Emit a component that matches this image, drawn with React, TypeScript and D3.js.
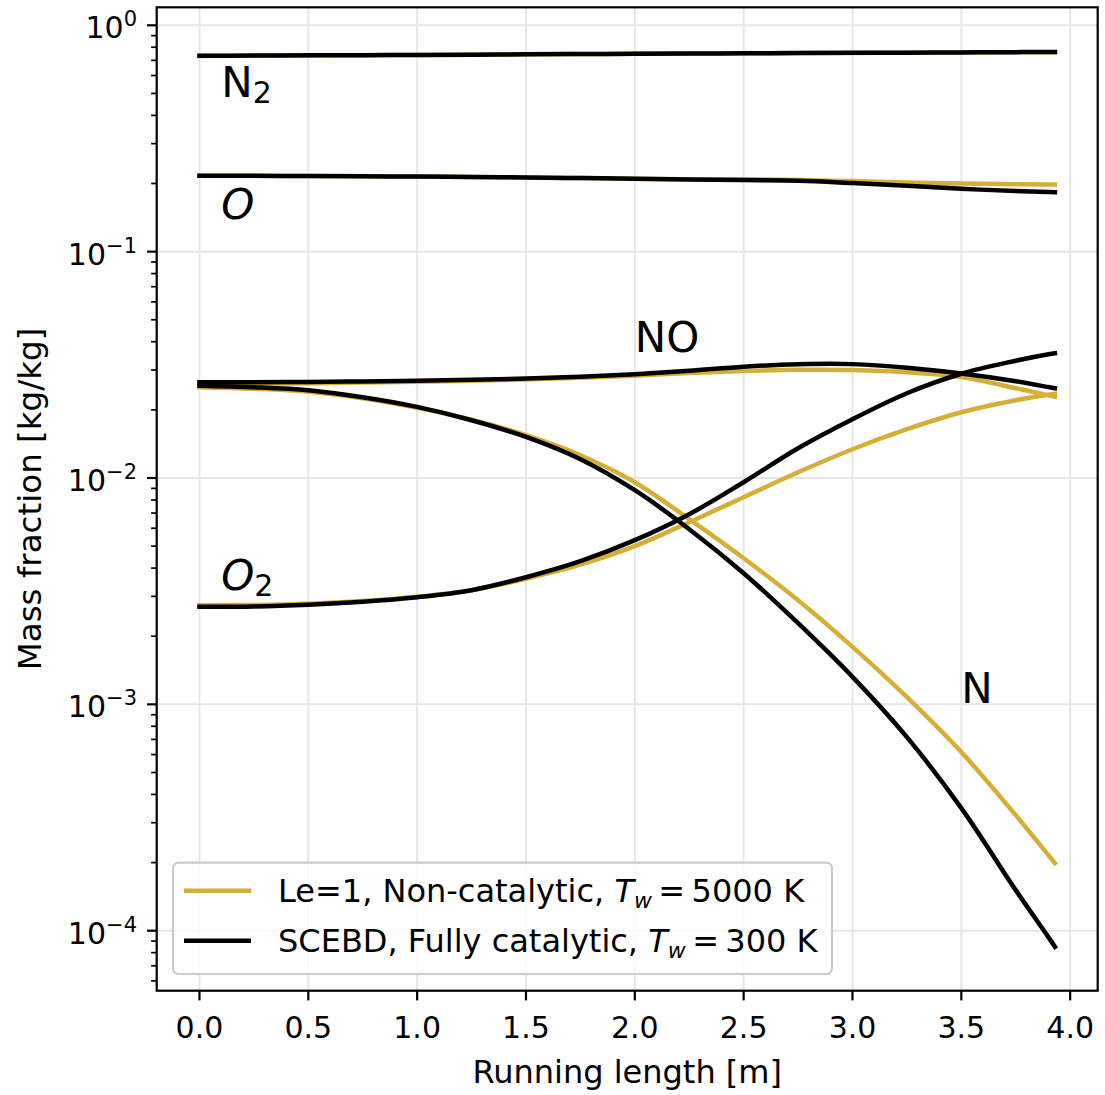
import React from 'react';
import * as d3 from 'd3';

// Running length [m]
const runningLength = [0, 0.25, 0.5, 0.75, 1.0, 1.25, 1.5, 1.75, 2.0, 2.25, 2.5, 2.75, 3.0, 3.25, 3.5, 3.75, 3.9, 3.93];

// Le=1, Non-catalytic, Tw = 5000 K  (gold)
const n2Gold = [0.732, 0.734, 0.736, 0.738, 0.740, 0.742, 0.744, 0.746, 0.748, 0.750, 0.752, 0.754, 0.755, 0.757, 0.758, 0.760, 0.761, 0.761];
const oGold = [0.2164, 0.2162, 0.2158, 0.2153, 0.2147, 0.2138, 0.2127, 0.2114, 0.2099, 0.2088, 0.2084, 0.2075, 0.2050, 0.2021, 0.1999, 0.1985, 0.1980, 0.1979];
const noGold = [0.02609, 0.02612, 0.02623, 0.02639, 0.02663, 0.02690, 0.02726, 0.02774, 0.02830, 0.02909, 0.02969, 0.03005, 0.02999, 0.02933, 0.02796, 0.02493, 0.02317, 0.02286];
const nGold = [0.02518, 0.02480, 0.02405, 0.02252, 0.02044, 0.01809, 0.01546, 0.01261, 0.009582, 0.006577, 0.004421, 0.002885, 0.001795, 0.001076, 0.0006151, 0.0003240, 0.0002158, 0.0001989];
const o2Gold = [0.002743, 0.002751, 0.002785, 0.002863, 0.002990, 0.003195, 0.003590, 0.004141, 0.004997, 0.006378, 0.008226, 0.010608, 0.013401, 0.016428, 0.019528, 0.022067, 0.023333, 0.023572];

// SCEBD, Fully catalytic, Tw = 300 K  (black)
const n2Black = [0.733, 0.735, 0.737, 0.738, 0.740, 0.742, 0.744, 0.746, 0.748, 0.750, 0.752, 0.754, 0.756, 0.757, 0.759, 0.761, 0.762, 0.762];
const oBlack = [0.2164, 0.2162, 0.2158, 0.2153, 0.2147, 0.2138, 0.2127, 0.2114, 0.2099, 0.2084, 0.2071, 0.2057, 0.2009, 0.1955, 0.1896, 0.1852, 0.1834, 0.1830];
const noBlack = [0.02649, 0.02649, 0.02657, 0.02671, 0.02690, 0.02715, 0.02751, 0.02802, 0.02874, 0.02978, 0.03102, 0.03180, 0.03185, 0.03071, 0.02894, 0.02676, 0.02522, 0.02493];
const nBlack = [0.02557, 0.02518, 0.02443, 0.02275, 0.02061, 0.01800, 0.01519, 0.012106, 0.008834, 0.005942, 0.003797, 0.002284, 0.001323, 0.0007164, 0.0003479, 0.0001511, 0.00009370, 0.00008492];
const o2Black = [0.002701, 0.002709, 0.002757, 0.002842, 0.002975, 0.003195, 0.003645, 0.004291, 0.005313, 0.006920, 0.009582, 0.013538, 0.018184, 0.023690, 0.028888, 0.032969, 0.035228, 0.035589];

const goldSeries = [n2Gold, oGold, noGold, nGold, o2Gold];
const blackSeries = [n2Black, oBlack, noBlack, nBlack, o2Black];

const xTickValues = [0, 0.5, 1.0, 1.5, 2.0, 2.5, 3.0, 3.5, 4.0];
const yTickExponents = [0, -1, -2, -3, -4];

const speciesLabels = [
  { main: 'N', sub: '2', x: 0.1, y: 0.48, italic: false },
  { main: 'O', sub: '', x: 0.1, y: 0.14, italic: true },
  { main: 'O', sub: '2', x: 0.1, y: 0.0032, italic: true },
  { main: 'NO', sub: '', x: 2.0, y: 0.036, italic: false },
  { main: 'N', sub: '', x: 3.5, y: 0.00101, italic: false },
];

const legendEntries = [
  { color: '#D4AF37', prefix: 'Le=1, Non-catalytic, ', value: '5000' },
  { color: '#000000', prefix: 'SCEBD, Fully catalytic, ', value: '300' },
];

const W = 1105;
const H = 1095;
const L = 156.7, R = 1097.7, T = 7.3, B = 990.7;
const FONT = 'DejaVu Sans';

export default function App() {
  const x = d3.scaleLinear().domain([-0.1965, 4.1265]).range([L, R]);
  const y = d3.scaleLog().domain([Math.pow(10, -4.265), Math.pow(10, 0.0795)]).range([B, T]);

  const line = (vals: number[]) =>
    d3.line<number>()
      .x((_, i) => x(runningLength[i]))
      .y((v) => y(v))
      .curve(d3.curveCatmullRom.alpha(0.5))(vals) || '';

  const minorTicks: number[] = [];
  for (let e = -5; e <= 0; e++) {
    for (let m = 2; m <= 9; m++) {
      const v = m * Math.pow(10, e);
      const py = y(v);
      if (py >= T && py <= B) minorTicks.push(v);
    }
  }

  return (
    <svg width={W} height={H} style={{ position: 'absolute', left: 0, top: 0, background: '#fff' }} fontFamily={FONT}>
      <rect x={0} y={0} width={W} height={H} fill="#fff" />
      {/* grid */}
      <g stroke="#e6e6e6" strokeWidth={2}>
        {xTickValues.map((t) => (
          <line key={'gx' + t} x1={x(t)} x2={x(t)} y1={T} y2={B} />
        ))}
        {yTickExponents.map((e) => (
          <line key={'gy' + e} x1={L} x2={R} y1={y(Math.pow(10, e))} y2={y(Math.pow(10, e))} />
        ))}
      </g>
      {/* data lines */}
      <g fill="none" strokeWidth={4.5} strokeLinecap="square" strokeLinejoin="round">
        {goldSeries.map((s, i) => (
          <path key={'g' + i} d={line(s)} stroke="#D4AF37" />
        ))}
        {blackSeries.map((s, i) => (
          <path key={'b' + i} d={line(s)} stroke="#000" />
        ))}
      </g>
      {/* species labels */}
      {speciesLabels.map((s, i) => (
        <text key={'s' + i} x={x(s.x)} y={y(s.y)} fontSize={42} fill="#000">
          <tspan fontStyle={s.italic ? 'italic' : 'normal'}>{s.main}</tspan>
          {s.sub && (
            <tspan fontSize={30} dy={6}>{s.sub}</tspan>
          )}
        </text>
      ))}
      {/* frame */}
      <rect x={L} y={T} width={R - L} height={B - T} fill="none" stroke="#000" strokeWidth={2.2} />
      {/* x ticks */}
      {xTickValues.map((t) => (
        <g key={'xt' + t}>
          <line x1={x(t)} x2={x(t)} y1={B} y2={B + 9.7} stroke="#000" strokeWidth={2.2} />
          <text x={x(t)} y={1038} textAnchor="middle" fontSize={30}>{t.toFixed(1)}</text>
        </g>
      ))}
      {/* y ticks */}
      {yTickExponents.map((e) => {
        const py = y(Math.pow(10, e));
        return (
          <g key={'yt' + e}>
            <line x1={L - 9.7} x2={L} y1={py} y2={py} stroke="#000" strokeWidth={2.2} />
            <text x={137} y={py + 13} textAnchor="end" fontSize={30}>
              10<tspan fontSize={21} dy={-12}>{e === 0 ? '0' : '\u2212' + Math.abs(e)}</tspan>
            </text>
          </g>
        );
      })}
      {minorTicks.map((v, i) => (
        <line key={'mt' + i} x1={L - 5.6} x2={L} y1={y(v)} y2={y(v)} stroke="#000" strokeWidth={1.7} />
      ))}
      {/* axis labels */}
      <text x={(L + R) / 2} y={1083} textAnchor="middle" fontSize={32}>Running length [m]</text>
      <text transform={`translate(41, ${(T + B) / 2}) rotate(-90)`} textAnchor="middle" fontSize={32.5}>Mass fraction [kg/kg]</text>
      {/* legend */}
      <g>
        <rect x={173} y={862.7} width={659} height={111.3} rx={5.5} fill="#fff" fillOpacity={0.8} stroke="#cccccc" strokeWidth={2.2} />
        {legendEntries.map((le, i) => {
          const ly = 890.7 + i * 50;
          return (
            <g key={'le' + i}>
              <line x1={184} x2={251} y1={ly} y2={ly} stroke={le.color} strokeWidth={4.5} />
              <text x={278} y={ly + 11} fontSize={32}>
                {le.prefix}
                <tspan fontStyle="italic">T</tspan>
                <tspan fontStyle="italic" fontSize={22} dy={6}>w</tspan>
                <tspan dy={-6}>{'\u2009=\u2009'}</tspan>
                {le.value}
                {' K'}
              </text>
            </g>
          );
        })}
      </g>
    </svg>
  );
}
